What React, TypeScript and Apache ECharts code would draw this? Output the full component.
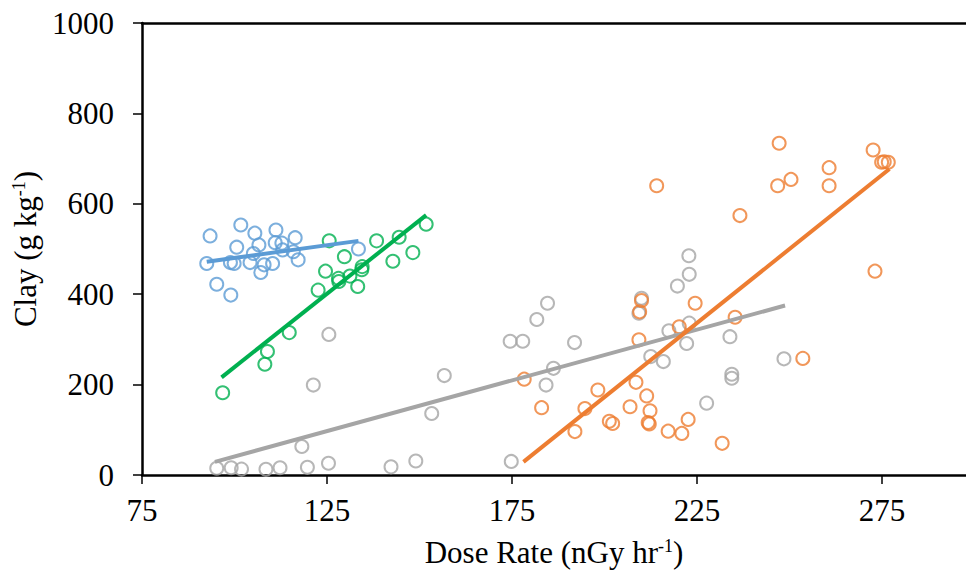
import React, { useEffect, useRef } from "react";
import * as echarts from "echarts";

const xTicks = [75, 125, 175, 225, 275];

const blueX = [93.4, 92.5, 95.2, 99, 101.7, 100.6, 99.9, 98.9, 105.5, 106.6, 105.1, 104.2, 107.1, 108, 110.3, 111.2, 111, 112.8, 113, 116.4, 115.9, 117.2, 133.5];
const blueY = [529, 468, 422, 398, 553, 504, 468, 470, 535, 509, 490, 470, 448, 465, 468, 542, 514, 513, 498, 525, 494, 476, 500];

const greenX = [96.8, 108.2, 108.9, 114.8, 122.6, 124.6, 125.6, 128.2, 128.1, 129.7, 131.2, 133.3, 134.4, 134.5, 138.4, 142.8, 144.5, 148.2, 151.8];
const greenY = [182, 245, 273, 315, 409, 451, 518, 428, 435, 483, 440, 417, 454, 461, 518, 473, 526, 492, 555];

const greyX = [95.2, 99.1, 101.9, 108.5, 112.3, 119.7, 118.2, 125.4, 121.3, 125.5, 142.3, 149, 153.3, 156.7, 174.8, 174.5, 177.9, 181.7, 184.6, 186.2, 184.2, 191.9, 210, 209.3, 212.5, 215.9, 217.4, 222.9, 222.2, 219.7, 222.9, 222.8, 233.9, 234.4, 234.4, 227.6, 248.5];
const greyY = [15, 16, 13, 12.5, 16, 17, 63, 26, 199, 311, 18, 31, 136, 220, 30, 296, 296, 344, 380, 236, 199, 293, 391, 358, 262, 251, 319, 336, 291, 418, 444, 485, 306, 223, 214, 159, 257];

const orangeX = [178.3, 183, 192, 194.7, 198.2, 201.3, 202.2, 206.9, 208.5, 209.3, 211.4, 212.3, 211.8, 212.1, 217.2, 220.9, 222.6, 231.8, 220.2, 224.5, 210, 209.5, 235.3, 247.2, 214.1, 236.6, 246.8, 250.4, 260.7, 260.7, 272.6, 274.9, 275.6, 276.7, 273.1, 253.6];
const orangeY = [212, 149, 96, 147, 188, 119, 114, 151, 205, 299, 175, 142, 116, 113, 97, 92, 123, 70, 328, 380, 386, 361, 349, 734, 640, 574, 640, 654, 680, 640, 719, 692, 693, 692, 451, 258];

// trend line end points [x0, y0, x1, y1]
const blueTrend = [92.5, 472, 133.5, 518];
const greenTrend = [96.5, 216, 151.8, 575];
const greyTrend = [94.7, 29, 248.8, 375];
const orangeTrend = [178.1, 29, 277, 677];

const BLUE = "#5B9BD5";
const GREEN = "#00B050";
const GREY = "#A5A5A5";
const ORANGE = "#ED7D31";
const FONT = "'Liberation Serif', 'Times New Roman', serif";

const zip = (xs: number[], ys: number[]) => xs.map((x, i) => [x, ys[i]]);
const trend = (t: number[]) => [[t[0], t[1]], [t[2], t[3]]];

const scatter = (data: number[][], color: string) => ({
  type: "scatter",
  data,
  symbol: "circle",
  symbolSize: 13,
  itemStyle: { color: "rgba(0,0,0,0)", borderColor: color, borderWidth: 2 },
  z: 2,
});

const line = (data: number[][], color: string) => ({
  type: "line",
  data,
  showSymbol: false,
  symbol: "none",
  lineStyle: { color, width: 4 },
  z: 3,
});

export default function App() {
  const ref = useRef<HTMLDivElement>(null);
  useEffect(() => {
    document.body.style.margin = "0";
    const chart = echarts.init(ref.current!, null, { renderer: "svg" });
    const rich = {
      a: { fontSize: 31, fontFamily: FONT, color: "#000" },
      s: { fontSize: 18, fontFamily: FONT, color: "#000", verticalAlign: "top" as const },
    };
    chart.setOption({
      animation: false,
      backgroundColor: "#fff",
      grid: { left: 142, right: 0, top: 23, bottom: 98, containLabel: false, outerBoundsMode: "none" },
      xAxis: [
        {
          type: "value",
          min: 75,
          max: 297.7,
          name: "{a|Dose Rate (nGy hr}{s|-1}{a|)}",
          nameLocation: "middle",
          nameGap: 62,
          nameTextStyle: { rich },
          axisLine: { show: true, lineStyle: { color: "#000", width: 2.5 } },
          axisTick: { show: true, inside: false, length: 9, customValues: xTicks, lineStyle: { color: "#000", width: 1.5 } },
          axisLabel: { customValues: xTicks, margin: 20, fontSize: 31, fontFamily: FONT, color: "#000", formatter: (v: number) => String(v) },
          splitLine: { show: false },
        },
        {
          type: "value",
          position: "top",
          min: 75,
          max: 297.7,
          axisLine: { show: true, onZero: false, lineStyle: { color: "#000", width: 2.5 } },
          axisTick: { show: false },
          axisLabel: { show: false },
          splitLine: { show: false },
        },
      ],
      yAxis: {
        type: "value",
        min: 0,
        max: 1000,
        interval: 200,
        name: "{a|Clay (g kg}{s|-1}{a|)}",
        nameLocation: "middle",
        nameGap: 90,
        nameRotate: 90,
        nameTextStyle: { rich },
        axisLine: { show: true, lineStyle: { color: "#000", width: 2.5 } },
        axisTick: { show: true, inside: false, length: 9, lineStyle: { color: "#000", width: 1.5 } },
        axisLabel: { margin: 28, fontSize: 31, fontFamily: FONT, color: "#000", formatter: (v: number) => String(v) },
        splitLine: { show: false },
      },
      series: [
        scatter(zip(greyX, greyY), GREY),
        scatter(zip(orangeX, orangeY), ORANGE),
        scatter(zip(blueX, blueY), BLUE),
        scatter(zip(greenX, greenY), GREEN),
        line(trend(greyTrend), GREY),
        line(trend(orangeTrend), ORANGE),
        line(trend(blueTrend), BLUE),
        line(trend(greenTrend), GREEN),
      ],
    });
    return () => chart.dispose();
  }, []);
  return <div ref={ref} style={{ width: 966, height: 573 }} />;
}
